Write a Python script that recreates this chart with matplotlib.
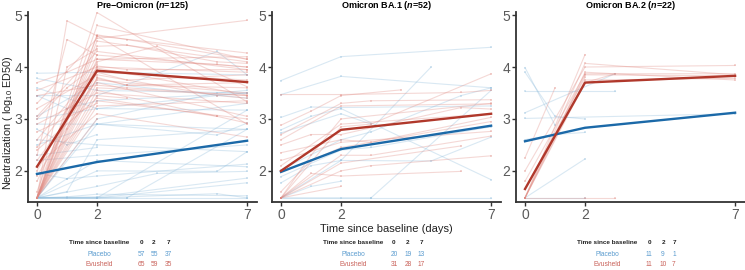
import matplotlib

matplotlib.use("Agg")
import matplotlib.pyplot as plt  # noqa: E402

plt.rcParams["font.family"] = ["Liberation Sans", "DejaVu Sans"]
plt.rcParams["mathtext.fontset"] = "custom"
plt.rcParams["mathtext.rm"] = "Liberation Sans"
plt.rcParams["mathtext.it"] = "Liberation Sans:italic:bold"

# ---- data -------------------------------------------------------------
titles = ["Pre\u2212Omicron", "Omicron BA.1", "Omicron BA.2"]
n_total = [125, 52, 22]
mean_days = [0, 2, 7]

pre_mean_placebo = [1.94, 2.17, 2.58]
pre_mean_evusheld = [2.08, 3.93, 3.71]
ba1_mean_placebo = [1.98, 2.42, 2.87]
ba1_mean_evusheld = [2.00, 2.79, 3.10]
ba2_mean_placebo = [2.57, 2.83, 3.12]
ba2_mean_evusheld = [1.65, 3.70, 3.83]

pre_placebo = [
    [(0, 1.48), (1, 1.48), (2, 1.48), (3, 1.48), (7, 1.48)],
    [(0, 1.48), (2, 1.48), (6, 1.56), (7, 1.48)],
    [(0, 1.48), (1, 1.50), (2, 1.55), (7, 1.52)],
    [(0, 3.88), (2, 3.90), (7, 3.85)],
    [(0, 3.78), (2, 3.55), (7, 3.50)],
    [(0, 3.60), (2, 3.20), (6, 3.45), (7, 3.50)],
    [(0, 3.45), (2, 3.45), (6, 4.30), (7, 3.85)],
    [(0, 3.00), (2, 3.20), (7, 3.17)],
    [(0, 2.90), (2, 2.90), (7, 2.80)],
    [(0, 2.60), (2, 2.50), (7, 2.37)],
    [(0, 2.50), (2, 2.90), (6, 2.69), (7, 2.92)],
    [(0, 2.30), (2, 2.45)],
    [(0, 1.95), (1, 1.85), (2, 1.90), (7, 2.13)],
    [(0, 1.48), (1, 1.85), (2, 2.20), (7, 2.08)],
    [(0, 1.48), (2, 1.70), (4, 1.95), (7, 1.99)],
    [(0, 1.48), (2, 2.00), (6, 1.99), (7, 2.37)],
    [(0, 1.48), (2, 1.50), (7, 1.86)],
    [(0, 1.48), (1, 1.60), (2, 2.60), (7, 2.80)],
    [(0, 1.48), (2, 1.48), (7, 3.17)],
    [(0, 1.48), (2, 1.48), (7, 1.77)],
    [(0, 2.20), (2, 2.30), (7, 2.50)],
    [(0, 3.45), (1, 3.20), (2, 3.35), (7, 3.50)],
    [(0, 1.48), (2, 2.90), (7, 3.30)],
    [(0, 1.48), (3, 1.48), (7, 2.80)],
    [(0, 2.80), (1, 2.50), (2, 2.70)],
    [(0, 1.48), (2, 3.00), (6, 3.50), (7, 3.55)],
    [(0, 3.05), (2, 3.70), (7, 3.40)],
]

pre_evusheld = [
    [(0, 1.48), (1, 4.89), (2, 4.60), (7, 4.27)],
    [(0, 2.30), (1, 4.53), (2, 4.23)],
    [(0, 1.48), (2, 5.05), (7, 3.33)],
    [(0, 1.48), (2, 4.62), (3, 4.53), (7, 4.15)],
    [(0, 1.48), (2, 4.40), (3, 4.42), (6, 4.10), (7, 4.07)],
    [(0, 1.80), (2, 4.23), (7, 4.00)],
    [(0, 1.48), (2, 4.15), (6, 4.05), (7, 4.00)],
    [(0, 2.00), (2, 4.10), (4, 4.40), (7, 3.62)],
    [(0, 1.48), (2, 4.02), (3, 3.95), (7, 3.95)],
    [(0, 2.60), (2, 3.98), (7, 3.46)],
    [(0, 1.48), (2, 3.90), (3, 3.75), (7, 3.85)],
    [(0, 3.20), (2, 3.85), (6, 3.45), (7, 3.40)],
    [(0, 1.48), (2, 3.80), (3, 3.65), (7, 3.60)],
    [(0, 2.20), (2, 3.75), (7, 3.50)],
    [(0, 1.48), (2, 3.70), (7, 3.05)],
    [(0, 3.45), (2, 3.65), (3, 3.60), (7, 3.45)],
    [(0, 1.48), (2, 3.55), (6, 3.05), (7, 2.92)],
    [(0, 2.90), (2, 3.50), (7, 3.30)],
    [(0, 1.48), (2, 3.45), (3, 3.40)],
    [(0, 3.70), (1, 3.90), (2, 4.15), (7, 4.20)],
    [(0, 1.60), (1, 3.20), (2, 3.95)],
    [(0, 1.48), (2, 3.35), (7, 3.00)],
    [(0, 2.45), (2, 3.90), (7, 3.75)],
    [(0, 1.48), (1, 2.80), (2, 3.60), (7, 3.45)],
    [(0, 3.05), (2, 4.30), (7, 3.95)],
    [(0, 1.48), (2, 3.25), (7, 3.35)],
    [(0, 2.75), (2, 3.30)],
    [(0, 1.48), (2, 4.50), (7, 4.10)],
    [(0, 2.10), (2, 3.10), (7, 2.65)],
    [(0, 1.48), (2, 3.00)],
    [(0, 3.55), (2, 4.00), (7, 3.90)],
    [(0, 1.90), (2, 3.78), (3, 3.65), (7, 3.70)],
    [(0, 1.48), (1, 4.00), (2, 4.35)],
    [(0, 1.48), (2, 4.80), (7, 4.15)],
    [(0, 3.30), (2, 4.55), (7, 4.90)],
    [(0, 2.40), (2, 3.40), (6, 3.05)],
    [(0, 1.48), (2, 4.60), (7, 2.90)],
    [(0, 3.00), (1, 3.60), (2, 4.05)],
]

ba1_placebo = [
    [(0, 3.74), (2, 4.20), (7, 4.38)],
    [(0, 3.47), (2, 3.82), (7, 3.60)],
    [(0, 3.03), (1, 3.23), (2, 3.22), (7, 3.25)],
    [(0, 1.48), (2, 2.20), (5, 4.00)],
    [(0, 2.79), (1, 3.05), (2, 3.20), (7, 1.83)],
    [(0, 1.48), (2, 1.48), (3, 1.48), (7, 1.48)],
    [(0, 1.48), (3, 1.48), (7, 3.55)],
    [(0, 1.89), (2, 2.40), (3, 2.45), (7, 2.85)],
    [(0, 2.02), (2, 2.60), (3, 2.75), (6, 3.45), (7, 3.60)],
    [(0, 1.77), (1, 2.10), (2, 2.20), (5, 2.19), (7, 2.65)],
    [(0, 2.73), (2, 3.10), (3, 2.90)],
    [(0, 1.48), (1, 1.70), (2, 1.80)],
]

ba1_evusheld = [
    [(0, 3.47), (2, 3.47), (6, 3.51), (7, 3.55)],
    [(0, 2.88), (1, 3.15), (2, 3.45), (4, 3.56)],
    [(0, 1.48), (2, 2.85), (3, 2.90), (7, 3.87)],
    [(0, 2.70), (2, 3.30), (3, 3.35), (7, 3.37)],
    [(0, 2.60), (2, 3.25), (7, 3.29)],
    [(0, 2.50), (1, 2.70), (2, 2.70), (6, 3.22), (7, 3.19)],
    [(0, 2.35), (2, 2.60), (3, 2.55), (7, 3.03)],
    [(0, 2.20), (2, 2.55), (7, 2.76)],
    [(0, 1.48), (2, 2.30), (3, 2.30), (7, 2.67)],
    [(0, 1.48), (2, 2.15), (6, 2.48)],
    [(0, 1.48), (2, 2.00), (3, 2.10), (7, 2.29)],
    [(0, 1.48), (1, 1.95), (2, 1.90), (6, 1.99)],
    [(0, 2.10), (2, 2.90), (7, 3.10)],
    [(0, 1.48), (1, 2.30), (2, 3.00), (7, 3.30)],
    [(0, 1.48), (2, 1.70)],
    [(0, 1.60), (1, 2.20), (2, 2.45), (7, 2.95)],
]

ba2_placebo = [
    [(0, 3.99), (1, 2.88)],
    [(0, 3.90), (1, 3.05), (2, 3.00)],
    [(0, 3.01), (7, 3.10)],
    [(0, 3.53), (3, 3.53)],
    [(0, 3.12), (3, 3.87)],
    [(0, 1.48), (2, 2.23)],
    [(0, 2.60), (1, 2.70), (2, 2.74)],
    [(0, 1.48), (2, 1.48)],
]

ba2_evusheld = [
    [(0, 1.48), (2, 4.24)],
    [(0, 1.48), (2, 4.07), (7, 3.85)],
    [(0, 2.00), (2, 4.00), (7, 4.03)],
    [(0, 1.48), (2, 3.90), (7, 3.75)],
    [(0, 1.80), (2, 3.87), (7, 3.87)],
    [(0, 1.48), (2, 3.85), (7, 3.83)],
    [(0, 2.25), (1, 3.60)],
    [(0, 1.48), (2, 3.75), (7, 3.78)],
    [(0, 1.65), (2, 3.80)],
    [(0, 1.48), (2, 1.48), (3, 1.48)],
    [(0, 1.48), (2, 3.70), (3, 3.87)],
]

count_days = ["0", "2", "7"]
pre_n_placebo = [57, 55, 37]
pre_n_evusheld = [65, 59, 35]
ba1_n_placebo = [20, 19, 13]
ba1_n_evusheld = [31, 28, 17]
ba2_n_placebo = [11, 9, 1]
ba2_n_evusheld = [11, 10, 7]

# ---- style ------------------------------------------------------------
W, H = 745, 270
RED_LIGHT = "#e08a82"
BLUE_LIGHT = "#8dbbdb"
RED = "#b0382b"
BLUE = "#1b69a8"
RED_TXT = "#c9625a"
BLUE_TXT = "#5b9ccf"
SPINE = "#333333"

panels = [
    (pre_placebo, pre_evusheld, pre_mean_placebo, pre_mean_evusheld, pre_n_placebo, pre_n_evusheld),
    (ba1_placebo, ba1_evusheld, ba1_mean_placebo, ba1_mean_evusheld, ba1_n_placebo, ba1_n_evusheld),
    (ba2_placebo, ba2_evusheld, ba2_mean_placebo, ba2_mean_evusheld, ba2_n_placebo, ba2_n_evusheld),
]
axes_left_px = [28, 272, 516]
table_label_x = [99, 353, 607]
table_num_x = [[141, 154, 168], [394, 408, 421], [649, 663, 674]]


def draw_subjects(ax, subjects, color):
    for s in subjects:
        xs = [p[0] for p in s]
        ys = [p[1] for p in s]
        ax.plot(xs, ys, color=color, lw=0.8, alpha=0.33, marker="s", markersize=1.8,
                markeredgewidth=0, zorder=2)


fig = plt.figure(figsize=(W / 100, H / 100), dpi=100)

for i, (pla, evu, m_pla, m_evu, n_pla, n_evu) in enumerate(panels):
    ax = fig.add_axes([axes_left_px[i] / W, 1 - 202 / H, 229 / W, 190 / H])
    draw_subjects(ax, pla, BLUE_LIGHT)
    draw_subjects(ax, evu, RED_LIGHT)
    ax.plot(mean_days, m_pla, color=BLUE, lw=1.7, zorder=4)
    ax.plot(mean_days, m_evu, color=RED, lw=1.7, zorder=4)

    ax.set_xlim(-0.3, 7.33)
    ax.set_ylim(1.40, 5.06)
    ax.set_xticks([0, 2, 7])
    ax.set_yticks([2, 3, 4, 5])
    for side in ("top", "right"):
        ax.spines[side].set_visible(False)
    for side in ("left", "bottom"):
        ax.spines[side].set_color(SPINE)
        ax.spines[side].set_linewidth(1.3)
    ax.tick_params(length=3, width=1, color=SPINE, labelsize=10, labelcolor="#5a5a5a", pad=1)
    ax.set_title(f"{titles[i]} ($\\it{{n}}$={n_total[i]})", fontsize=6.5, fontweight="bold",
                 pad=2)
    if i == 0:
        ax.set_ylabel("Neutralization ( log$_{10}$ ED50)", fontsize=7.8, color="#222222",
                      va="center")
        ax.yaxis.set_label_coords(-0.089, 0.42)
    if i == 1:
        ax.set_xlabel("Time since baseline (days)", fontsize=8, color="#222222", labelpad=2)

    # count table under each panel
    fig.text(table_label_x[i] / W, 1 - 243 / H, "Time since baseline", fontsize=4.6,
             fontweight="bold", ha="center", va="center", color="#222222")
    fig.text(table_label_x[i] / W, 1 - 254 / H, "Placebo", fontsize=4.8, ha="center",
             va="center", color=BLUE_TXT)
    fig.text(table_label_x[i] / W, 1 - 265 / H, "Evusheld", fontsize=4.8, ha="center",
             va="center", color=RED_TXT)
    for j, d in enumerate(count_days):
        x = table_num_x[i][j] / W
        fig.text(x, 1 - 243 / H, d, fontsize=4.6, fontweight="bold", ha="center", va="center",
                 color="#222222")
        fig.text(x, 1 - 254 / H, str(n_pla[j]), fontsize=4.8, ha="center", va="center",
                 color=BLUE_TXT)
        fig.text(x, 1 - 265 / H, str(n_evu[j]), fontsize=4.8, ha="center", va="center",
                 color=RED_TXT)

fig.savefig("out.png", dpi=100)
